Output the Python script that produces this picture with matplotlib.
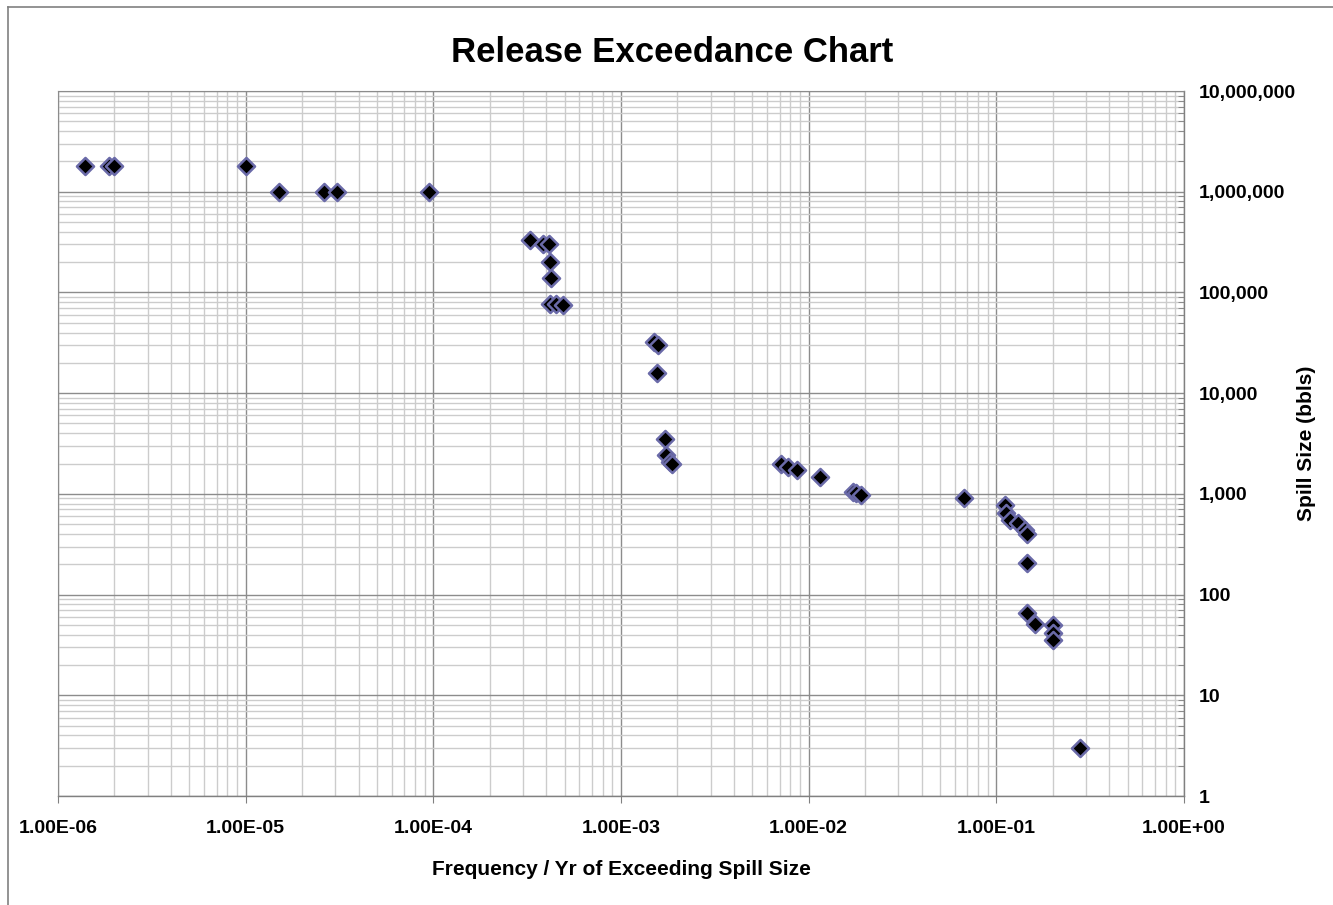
import matplotlib
matplotlib.use("Agg")
import matplotlib.pyplot as plt
from matplotlib.ticker import LogLocator, FixedLocator, FuncFormatter, NullFormatter
from matplotlib.lines import Line2D

plt.rcParams['font.family'] = ['Liberation Sans', 'DejaVu Sans']

# Exceedance frequency (per year) and spill size (bbls)
frequency = [
    1.39e-6, 1.88e-6, 2.0e-6, 1.0e-5,
    1.5e-5, 2.6e-5, 3.06e-5, 9.45e-5,
    3.29e-4, 3.84e-4, 4.12e-4, 4.17e-4, 4.22e-4, 4.17e-4, 4.49e-4, 4.91e-4,
    1.49e-3, 1.57e-3, 1.56e-3, 1.72e-3, 1.74e-3, 1.82e-3, 1.87e-3,
    7.08e-3, 7.74e-3, 8.65e-3, 1.15e-2, 1.72e-2, 1.79e-2, 1.90e-2,
    6.76e-2, 0.1117, 0.1127, 0.1189, 0.1298, 0.1426, 0.145, 0.145,
    0.1457, 0.1607, 0.2011, 0.2011, 0.2011, 0.280,
]
spill_size = [
    1800000, 1800000, 1800000, 1800000,
    1000000, 1000000, 1000000, 1000000,
    330000, 300000, 300000, 200000, 140000, 77000, 77000, 75000,
    32500, 30000, 15700, 3500, 2430, 2090, 2000,
    1980, 1830, 1720, 1480, 1050, 1010, 970,
    900, 775, 640, 550, 510, 440, 400, 204,
    66, 51, 50, 42, 35, 3,
]

x_ticks = [1e-6, 1e-5, 1e-4, 1e-3, 1e-2, 1e-1, 1e0]
x_tick_labels = ["1.00E-06", "1.00E-05", "1.00E-04", "1.00E-03", "1.00E-02", "1.00E-01", "1.00E+00"]
y_ticks = [1, 10, 100, 1000, 10000, 100000, 1000000, 10000000]

fig = plt.figure(figsize=(13.33, 9.05), dpi=100)
ax = fig.add_axes([58 / 1333, 1 - 796 / 905, (1184 - 58) / 1333, (796 - 91) / 905])

ax.set_xscale('log')
ax.set_yscale('log')
ax.set_xlim(1e-6, 1e0)
ax.set_ylim(1, 1e7)

ax.scatter(frequency, spill_size, marker='D', s=76, facecolor='black',
           edgecolor='#6a6aa8', linewidth=1.8, zorder=3, clip_on=False)

ax.xaxis.set_major_locator(FixedLocator(x_ticks))
ax.set_xticklabels(x_tick_labels)
ax.xaxis.set_minor_locator(LogLocator(base=10, subs=range(2, 10), numticks=20))
ax.xaxis.set_minor_formatter(NullFormatter())

ax.yaxis.tick_right()
ax.yaxis.set_label_position('right')
ax.yaxis.set_major_locator(FixedLocator(y_ticks))
ax.yaxis.set_major_formatter(FuncFormatter(lambda v, p: f"{int(round(v)):,}"))
ax.yaxis.set_minor_locator(LogLocator(base=10, subs=range(2, 10), numticks=20))
ax.yaxis.set_minor_formatter(NullFormatter())

ax.grid(which='major', color='#8c8c8c', linewidth=1.0)
ax.grid(which='minor', color='#cccccc', linewidth=1.0)
ax.set_axisbelow(True)

for side in ['left', 'top']:
    ax.spines[side].set_color('#8c8c8c')
for side in ['right', 'bottom']:
    ax.spines[side].set_color('#808080')
    ax.spines[side].set_linewidth(1.0)

ax.tick_params(axis='x', which='major', direction='out', length=5, color='#808080',
               pad=12, labelsize=14)
ax.tick_params(axis='x', which='minor', length=0)
ax.tick_params(axis='y', which='major', direction='out', length=0, pad=10.5, labelsize=14)
ax.tick_params(axis='y', which='minor', direction='in', length=4, color='#808080')
for lbl in ax.get_xticklabels() + ax.get_yticklabels():
    lbl.set_fontweight('bold')

ax.set_xlabel("Frequency / Yr of Exceeding Spill Size", fontsize=15, fontweight='bold', labelpad=17)
ax.set_ylabel("Spill Size (bbls)", fontsize=15, fontweight='bold', labelpad=1)

fig.text(0.504, 1 - 52 / 905, "Release Exceedance Chart", ha='center', va='center',
         fontsize=25, fontweight='bold')

# outer chart frame
fig.add_artist(Line2D([8 / 1333, 8 / 1333], [0, 1 - 7 / 905], transform=fig.transFigure,
                      color='#808080', linewidth=1.2))
fig.add_artist(Line2D([8 / 1333, 1], [1 - 7 / 905, 1 - 7 / 905], transform=fig.transFigure,
                      color='#808080', linewidth=1.2))

fig.savefig("out.png", dpi=100)
